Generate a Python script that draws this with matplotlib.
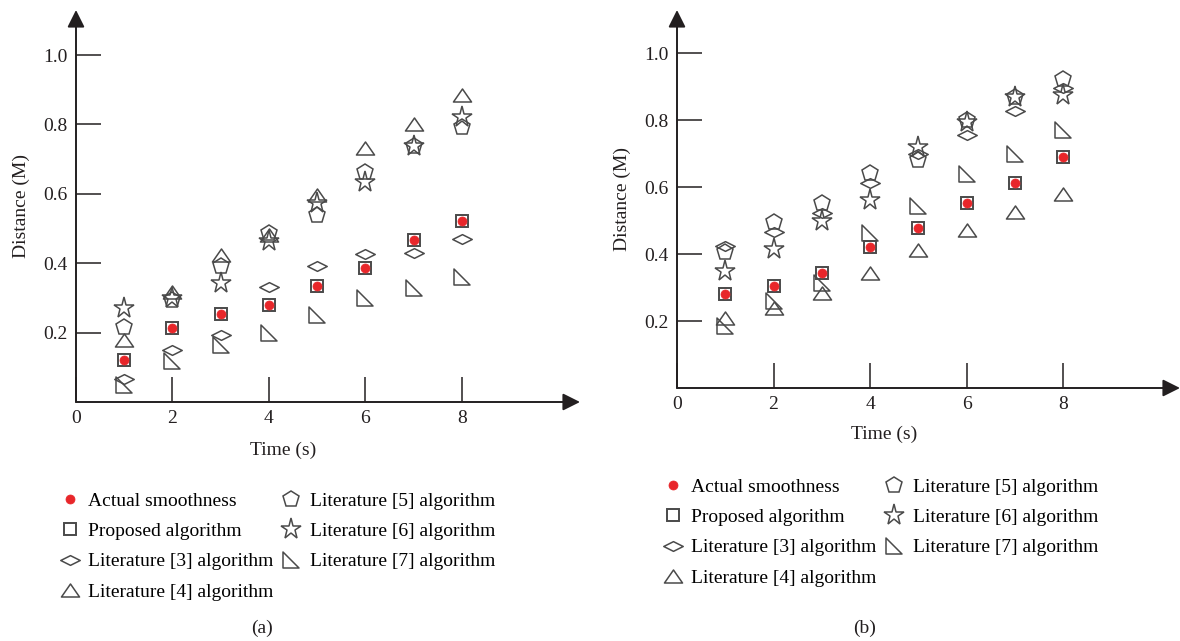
import matplotlib as mpl
mpl.use('Agg')
import matplotlib.pyplot as plt
from matplotlib.path import Path

plt.rcParams['font.family'] = ['Liberation Serif', 'DejaVu Serif']

t = [1, 2, 3, 4, 5, 6, 7, 8]
x_ticks = [0, 2, 4, 6, 8]
y_ticks = [0.2, 0.4, 0.6, 0.8, 1.0]

# (a)
actual_a = [0.120, 0.214, 0.254, 0.281, 0.333, 0.386, 0.468, 0.522]
proposed_a = [0.120, 0.214, 0.254, 0.281, 0.333, 0.386, 0.468, 0.522]
lit3_a = [0.065, 0.151, 0.194, 0.332, 0.391, 0.427, 0.429, 0.470]
lit4_a = [0.180, 0.318, 0.424, 0.480, 0.597, 0.731, 0.801, 0.885]
lit5_a = [0.217, 0.295, 0.391, 0.487, 0.540, 0.664, 0.738, 0.794]
lit6_a = [0.272, 0.300, 0.343, 0.463, 0.573, 0.635, 0.738, 0.822]
lit7_a = [0.048, 0.117, 0.165, 0.200, 0.252, 0.300, 0.329, 0.360]

# (b)
actual_b = [0.281, 0.305, 0.345, 0.421, 0.479, 0.552, 0.614, 0.690]
proposed_b = [0.281, 0.305, 0.345, 0.421, 0.479, 0.552, 0.614, 0.690]
lit3_b = [0.425, 0.466, 0.522, 0.612, 0.699, 0.756, 0.828, 0.898]
lit4_b = [0.209, 0.239, 0.285, 0.343, 0.413, 0.473, 0.525, 0.580]
lit5_b = [0.408, 0.497, 0.552, 0.642, 0.681, 0.800, 0.869, 0.923]
lit6_b = [0.351, 0.415, 0.500, 0.562, 0.721, 0.796, 0.869, 0.876]
lit7_b = [0.186, 0.259, 0.313, 0.463, 0.544, 0.640, 0.699, 0.771]

labels = ['Actual smoothness', 'Proposed algorithm', 'Literature [3] algorithm',
          'Literature [4] algorithm', 'Literature [5] algorithm',
          'Literature [6] algorithm', 'Literature [7] algorithm']

INK = '#231f20'
EDGE = '#4a4a4a'
RED = '#e8262a'

tri = Path([(0, 0.72), (-1, -0.72), (1, -0.72), (0, 0.72)],
           [Path.MOVETO, Path.LINETO, Path.LINETO, Path.CLOSEPOLY])
flat_diamond = Path([(-1, 0), (0, 0.5), (1, 0), (0, -0.5), (-1, 0)],
                    [Path.MOVETO, Path.LINETO, Path.LINETO, Path.LINETO, Path.CLOSEPOLY])
right_tri = Path([(-1, 1), (-1, -1), (1, -1), (-1, 1)],
                 [Path.MOVETO, Path.LINETO, Path.LINETO, Path.CLOSEPOLY])

styles = [
    dict(marker='o', ms=6.5, mfc=RED, mec=RED, mew=0.5),
    dict(marker='s', ms=9, mfc='none', mec=EDGE, mew=1.4),
    dict(marker=flat_diamond, ms=14, mfc='none', mec=EDGE, mew=1.1),
    dict(marker=tri, ms=13, mfc='none', mec=EDGE, mew=1.1),
    dict(marker='p', ms=12, mfc='none', mec=EDGE, mew=1.1),
    dict(marker='*', ms=15.5, mfc='none', mec=EDGE, mew=1.1),
    dict(marker=right_tri, ms=11, mfc='none', mec=EDGE, mew=1.1),
]
draw_order = [1, 2, 3, 4, 5, 6, 0]

fig = plt.figure(figsize=(11.8, 6.41), dpi=100)
W, H = 1180.0, 641.0


def panel(rect, series, ylim_top, xlim_right, label_x, leg_anchor):
    ax = fig.add_axes(rect)
    handles = [None] * 7
    for i in draw_order:
        ln, = ax.plot(t, series[i], linestyle='none', label=labels[i], **styles[i])
        handles[i] = ln
    ax.set_xlim(0, xlim_right)
    ax.set_ylim(0, ylim_top)
    for s in ax.spines.values():
        s.set_visible(False)
    for end in [(1, 0), (0, 1)]:
        ax.annotate('', xy=end, xytext=(0, 0), xycoords='axes fraction',
                    arrowprops=dict(arrowstyle='-|>', mutation_scale=26, lw=1.4,
                                    color=INK, shrinkA=0, shrinkB=0))
    ax.set_xticks(x_ticks)
    ax.set_xticklabels([str(v) for v in x_ticks])
    ax.set_yticks(y_ticks)
    ax.set_yticklabels(['%.1f' % v for v in y_ticks])
    ax.tick_params(axis='both', direction='in', length=18, width=1.1, color=INK,
                   labelsize=14, labelcolor=INK, pad=6)
    ax.set_xlabel('Time (s)', fontsize=14, color=INK)
    ax.xaxis.set_label_coords(label_x / xlim_right, -0.1)
    ax.set_ylabel('Distance (M)', fontsize=14, color=INK, labelpad=9.5)
    fig.legend(handles=handles, loc='upper left', bbox_to_anchor=leg_anchor,
               ncol=2, frameon=False, fontsize=14, handlelength=1.0,
               handletextpad=0.45, columnspacing=0.4, labelspacing=0.66,
               borderaxespad=0, borderpad=0)
    return ax


ax1 = panel([76 / W, 1 - 402 / H, (580 - 76) / W, (402 - 10) / H],
            [actual_a, proposed_a, lit3_a, lit4_a, lit5_a, lit6_a, lit7_a],
            1.13, 10.45, 4.3, (60 / W, 1 - 492 / H))
ax2 = panel([677 / W, 1 - 388 / H, (1180 - 677) / W, (388 - 10) / H],
            [actual_b, proposed_b, lit3_b, lit4_b, lit5_b, lit6_b, lit7_b],
            1.13, 10.42, 4.3, (663 / W, 1 - 478 / H))

fig.text(262 / W, 1 - 628 / H, '(a)', fontsize=14, color=INK, ha='center', va='center')
fig.text(865 / W, 1 - 628 / H, '(b)', fontsize=14, color=INK, ha='center', va='center')

fig.savefig('out.png', dpi=100)
